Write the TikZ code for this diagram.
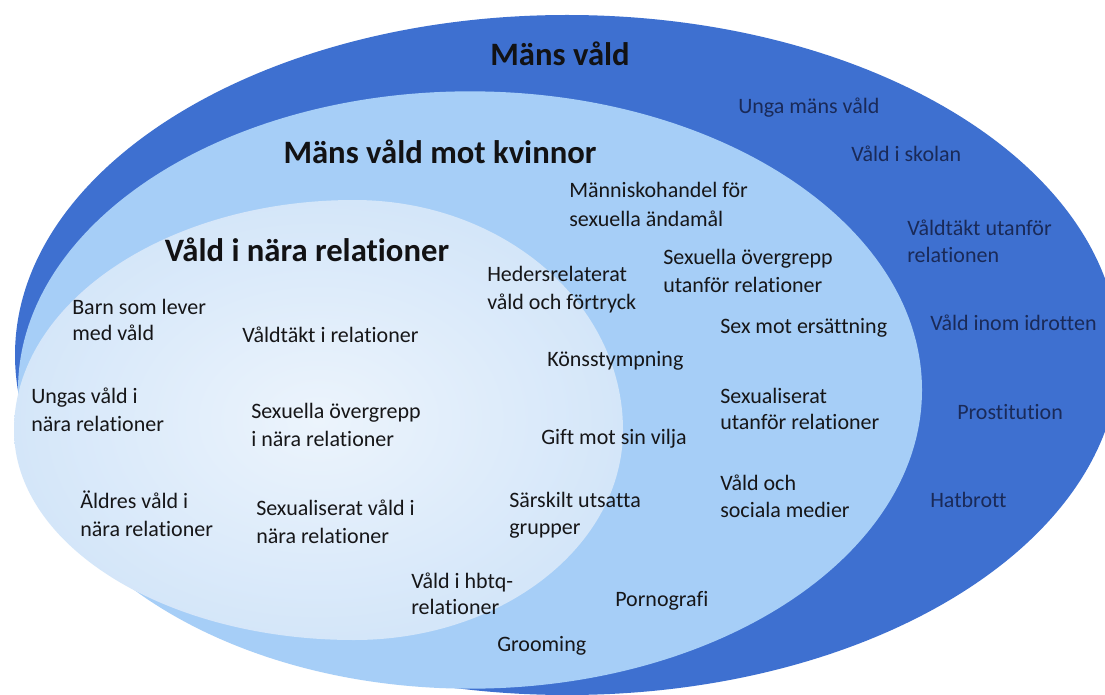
\documentclass[tikz,border=0pt]{standalone}
\usepackage{fontspec}
\setmainfont{Carlito}[Ligatures={NoCommon,NoContextual}]
\definecolor{outerblue}{RGB}{62,112,208}
\definecolor{midblue}{RGB}{166,206,247}
\definecolor{innerA}{RGB}{236,244,252}
\definecolor{innerB}{RGB}{212,230,249}
\definecolor{itemc}{RGB}{22,22,24}
\definecolor{ringc}{RGB}{26,42,88}
\definecolor{headc}{RGB}{18,18,20}
\begin{document}
\begin{tikzpicture}[x=0.75pt,y=-0.75pt,
  item/.style={anchor=base west, inner sep=0pt, font=\fontsize{16.5}{20}\selectfont, text=itemc},
  ring/.style={item, text=ringc},
  head/.style={anchor=base, inner sep=0pt, font=\bfseries\fontsize{24.5}{30}\selectfont, text=headc}]
\fill[white] (0,0) rectangle (1105,695);
\useasboundingbox (0,0) rectangle (1105,695);
% areas
\fill[outerblue] (567,355) ellipse [x radius=414pt, y radius=255pt];
\fill[midblue] (470,390) ellipse [x radius=339pt, y radius=224pt];
\shade[inner color=innerA, outer color=innerB]
  (14,430) arc[start angle=180, end angle=90, x radius=255pt, y radius=172.5pt]
  arc[start angle=90, end angle=0, x radius=201.75pt, y radius=172.5pt]
  arc[start angle=0, end angle=-90, x radius=201.75pt, y radius=157.5pt]
  arc[start angle=270, end angle=180, x radius=255pt, y radius=157.5pt] -- cycle;
% headings
\node[head] (h1) at (560,66) {Mäns våld};
\node[head] (h2) at (440,164) {Mäns våld mot kvinnor};
\node[head] (h3) at (307,261) {Våld i nära relationer};
% outer ring
\node[ring] (o1) at (738,114) {Unga mäns våld};
\node[ring] (o2) at (851,162) {Våld i skolan};
\node[ring] (o3a) at (907,235) {Våldtäkt utanför};
\node[ring] (o3b) at (907,262) {relationen};
\node[ring] (o4) at (930,330) {Våld inom idrotten};
\node[ring] (o5) at (957,419) {Prostitution};
\node[ring] (o6) at (930,507) {Hatbrott};
% middle ring
\node[item] (m1a) at (569,198) {Människohandel för};
\node[item] (m1b) at (569,227) {sexuella ändamål};
\node[item] (m2a) at (663,264) {Sexuella övergrepp};
\node[item] (m2b) at (663,292) {utanför relationer};
\node[item] (m3a) at (487,281) {Hedersrelaterat};
\node[item] (m3b) at (487,309) {våld och förtryck};
\node[item] (m4) at (720,333) {Sex mot ersättning};
\node[item] (m5) at (547,366) {Könsstympning};
\node[item] (m6a) at (720,403) {Sexualiserat};
\node[item] (m6b) at (720,429) {utanför relationer};
\node[item] (m7) at (541,444) {Gift mot sin vilja};
\node[item] (m8a) at (720,490) {Våld och};
\node[item] (m8b) at (720,517) {sociala medier};
\node[item] (m9a) at (509,507) {Särskilt utsatta};
\node[item] (m9b) at (509,534) {grupper};
\node[item] (m10) at (615,606) {Pornografi};
\node[item] (m11) at (497,651) {Grooming};
\node[item] (m12a) at (411,588) {Våld i hbtq-};
\node[item] (m12b) at (411,614) {relationer};
% inner
\node[item] (i1a) at (72,314) {Barn som lever};
\node[item] (i1b) at (72,340) {med våld};
\node[item] (i2) at (242,342) {Våldtäkt i relationer};
\node[item] (i3a) at (31,403) {Ungas våld i};
\node[item] (i3b) at (31,431) {nära relationer};
\node[item] (i4a) at (251,418) {Sexuella övergrepp};
\node[item] (i4b) at (251,446) {i nära relationer};
\node[item] (i5a) at (80,508) {Äldres våld i};
\node[item] (i5b) at (80,536) {nära relationer};
\node[item] (i6a) at (256,515) {Sexualiserat våld i};
\node[item] (i6b) at (256,543) {nära relationer};
\end{tikzpicture}
\end{document}
